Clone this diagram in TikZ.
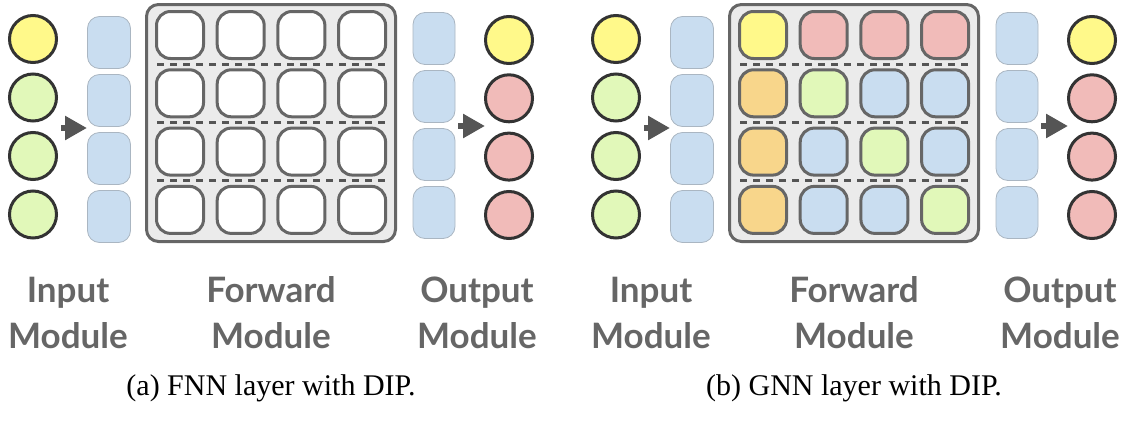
\documentclass[tikz,border=0pt]{standalone}
\usepackage{fontspec}
\setmainfont{Liberation Serif}
\newfontfamily\modfont{Lato}
\usetikzlibrary{arrows.meta}

\definecolor{nodeyellow}{HTML}{FFF98A}
\definecolor{nodegreen}{HTML}{E1F8B9}
\definecolor{nodered}{HTML}{F1BBB9}
\definecolor{nodeorange}{HTML}{F8D68B}
\definecolor{embblue}{HTML}{C9DDF0}
\definecolor{embedge}{HTML}{AAB6C2}
\definecolor{unitedge}{HTML}{333333}
\definecolor{celledge}{HTML}{666666}
\definecolor{fwdfill}{HTML}{EBEBEB}
\definecolor{darkgray}{HTML}{555555}
\definecolor{labelgray}{HTML}{666666}

\tikzset{
  unit/.style={circle, draw=unitedge, line width=3pt, minimum size=47pt, inner sep=0pt},
  emb/.style={rectangle, rounded corners=12pt, draw=embedge, line width=0.8pt, fill=embblue,
    minimum width=43pt, minimum height=52pt, inner sep=0pt},
  cell/.style={rectangle, rounded corners=14pt, draw=celledge, line width=3pt, minimum size=47pt, inner sep=0pt},
  fwdbox/.style={rectangle, rounded corners=12pt, draw=celledge, line width=3pt, fill=fwdfill,
    minimum width=249pt, minimum height=237pt, inner sep=0pt},
  rowsep/.style={draw=darkgray, line width=3pt, dash pattern=on 7pt off 6pt},
  pass/.style={draw=darkgray, line width=6pt, -{Triangle[length=22pt,width=23pt]}},
  modlabel/.style={font=\modfont\bfseries\fontsize{35}{46}\selectfont, text=labelgray, align=center, anchor=base},
  subcap/.style={font=\fontsize{30}{34}\selectfont, anchor=base}
}

\begin{document}
\begin{tikzpicture}[x=1pt,y=-1pt]
    \useasboundingbox (0,0) rectangle (1126,423);

    % (a) FNN layer
    \node [unit, fill=nodeyellow] (ina1) at (33,39) {};
    \node [unit, fill=nodegreen] (ina2) at (33,97.5) {};
    \node [unit, fill=nodegreen] (ina3) at (33,156) {};
    \node [unit, fill=nodegreen] (ina4) at (33,214.5) {};
    \foreach \i in {1,...,4}
        \node [emb] (emba\i) at (109,{42.5+58*(\i-1)}) {};
    \coordinate (pina) at (61,128);
    \coordinate (pouta) at (87,128);
    \draw [pass] (pina) -- (pouta);

    \node [fwdbox] (fwda) at (271,123) {};
    \foreach \r in {1,...,4}
        \foreach \c in {1,...,4}
            \node [cell, fill=white] (cella\r\c) at ({180+60.7*(\c-1)},{35+58.3*(\r-1)}) {};
    \foreach \y in {64.2,122.5,180.8}
        \draw [rowsep] (157,\y) -- (387,\y);

    \foreach \i in {1,...,4}
        \node [emb, minimum width=42pt] (outemba\i) at (434,{38.5+58*(\i-1)}) {};
    \coordinate (qina) at (458,126);
    \coordinate (qouta) at (485,126);
    \draw [pass] (qina) -- (qouta);
    \node [unit, fill=nodeyellow] (outa1) at (509,40) {};
    \node [unit, fill=nodered] (outa2) at (509,98.3) {};
    \node [unit, fill=nodered] (outa3) at (509,156.6) {};
    \node [unit, fill=nodered] (outa4) at (509,215) {};

    \node [modlabel] (inlabela) at (68,348) {Input\\Module};
    \node [modlabel] (fwdlabela) at (271,348) {Forward\\Module};
    \node [modlabel] (outlabela) at (477,348) {Output\\Module};
    \node [subcap] (capa) at (271,395) {(a) FNN layer with DIP.};

    % (b) GNN layer
    \begin{scope}[xshift=583pt]
    \node [unit, fill=nodeyellow] (inb1) at (33,39) {};
    \node [unit, fill=nodegreen] (inb2) at (33,97.5) {};
    \node [unit, fill=nodegreen] (inb3) at (33,156) {};
    \node [unit, fill=nodegreen] (inb4) at (33,214.5) {};
    \foreach \i in {1,...,4}
        \node [emb] (embb\i) at (109,{42.5+58*(\i-1)}) {};
    \coordinate (pinb) at (61,128);
    \coordinate (poutb) at (87,128);
    \draw [pass] (pinb) -- (poutb);

    \node [fwdbox] (fwdb) at (271,123) {};
    \foreach \r/\c/\col in {1/1/nodeyellow, 1/2/nodered, 1/3/nodered, 1/4/nodered,
                           2/1/nodeorange, 2/2/nodegreen, 2/3/embblue, 2/4/embblue,
                           3/1/nodeorange, 3/2/embblue, 3/3/nodegreen, 3/4/embblue,
                           4/1/nodeorange, 4/2/embblue, 4/3/embblue, 4/4/nodegreen}
        \node [cell, fill=\col] (cellb\r\c) at ({180+60.7*(\c-1)},{35+58.3*(\r-1)}) {};
    \foreach \y in {64.2,122.5,180.8}
        \draw [rowsep] (157,\y) -- (387,\y);

    \foreach \i in {1,...,4}
        \node [emb, minimum width=42pt] (outembb\i) at (434,{38.5+58*(\i-1)}) {};
    \coordinate (qinb) at (458,126);
    \coordinate (qoutb) at (485,126);
    \draw [pass] (qinb) -- (qoutb);
    \node [unit, fill=nodeyellow] (outb1) at (509,40) {};
    \node [unit, fill=nodered] (outb2) at (509,98.3) {};
    \node [unit, fill=nodered] (outb3) at (509,156.6) {};
    \node [unit, fill=nodered] (outb4) at (509,215) {};

    \node [modlabel] (inlabelb) at (68,348) {Input\\Module};
    \node [modlabel] (fwdlabelb) at (271,348) {Forward\\Module};
    \node [modlabel] (outlabelb) at (477,348) {Output\\Module};
    \node [subcap] (capb) at (271,395) {(b) GNN layer with DIP.};
    \end{scope}
\end{tikzpicture}
\end{document}
